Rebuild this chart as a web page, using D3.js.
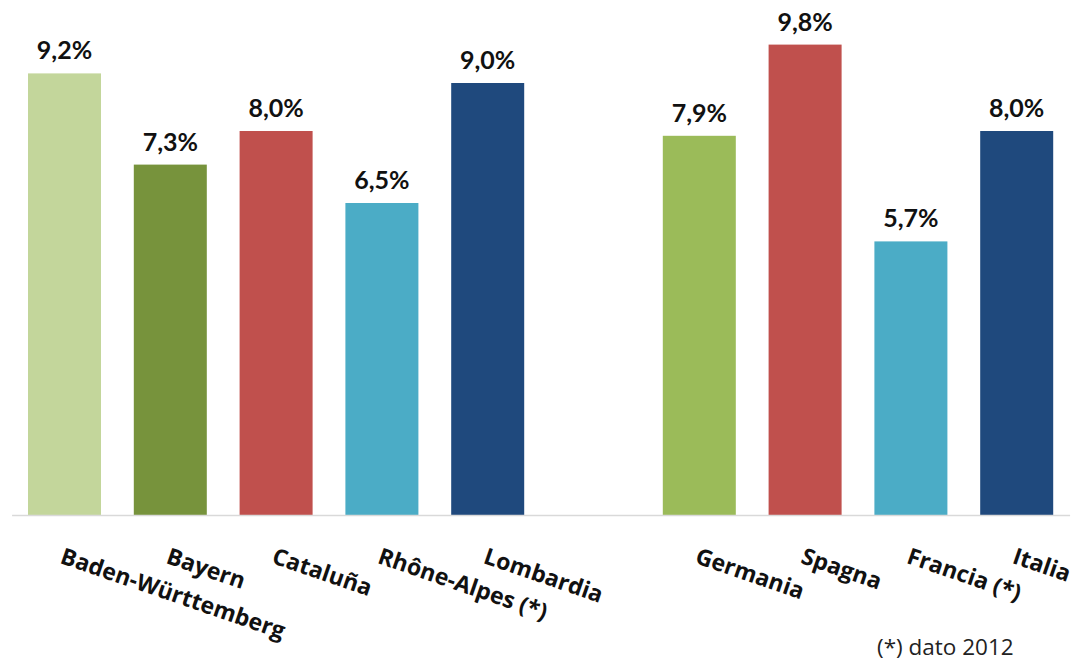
<!DOCTYPE html>
<html>
<head>
<meta charset="utf-8">
<script src="https://cdn.jsdelivr.net/npm/d3@7"></script>
<style>
  html, body { margin: 0; padding: 0; background: #ffffff; }
  svg { display: block; }
</style>
</head>
<body>
<svg id="chart" width="1081" height="665"></svg>
<script>
// ---- data ----
const categories = ["Baden-Württemberg", "Bayern", "Cataluña", "Rhône-Alpes (*)", "Lombardia", "", "Germania", "Spagna", "Francia (*)", "Italia"];
const values = [9.2, 7.3, 8.0, 6.5, 9.0, null, 7.9, 9.8, 5.7, 8.0];
const colors = ["#c3d69b", "#77933c", "#c0504d", "#4bacc6", "#1f497d", null, "#9bbb59", "#c0504d", "#4bacc6", "#1f497d"];
const footnote = "(*) dato 2012";

const data = categories.map((c, i) => ({ key: c, value: values[i], color: colors[i] }));

const svg = d3.select("#chart");
const baseline = 515;

const x = d3.scaleBand()
  .domain(categories)
  .range([11.6, 1069.6])
  .paddingInner(0.31)
  .paddingOuter(0.155);

const y = d3.scaleLinear()
  .domain([0, 10])
  .range([baseline, 35]);

const locale = d3.formatLocale({ decimal: ",", thousands: ".", grouping: [3], currency: ["", "€"] });
const fmt = locale.format(".1f");

const valueFont = "Lato, 'Open Sans', sans-serif";
const labelFont = "'Open Sans', Lato, sans-serif";

// bars
svg.append("g")
  .selectAll("rect")
  .data(data.filter(d => d.value != null))
  .join("rect")
  .attr("x", d => x(d.key))
  .attr("width", x.bandwidth())
  .attr("y", d => y(d.value))
  .attr("height", d => y(0) - y(d.value))
  .attr("fill", d => d.color);

// value labels
svg.append("g")
  .selectAll("text")
  .data(data.filter(d => d.value != null))
  .join("text")
  .attr("x", d => x(d.key) + x.bandwidth() / 2)
  .attr("y", d => y(d.value) - 14)
  .attr("text-anchor", "middle")
  .attr("font-family", valueFont)
  .attr("font-weight", "bold")
  .attr("font-size", 25)
  .attr("fill", "#111111")
  .text(d => fmt(d.value) + "%");

// x axis
const axis = svg.append("g")
  .attr("transform", `translate(0,${baseline})`)
  .call(d3.axisBottom(x).tickSize(0).tickSizeOuter(0).tickFormat(d => d));

axis.select(".domain")
  .attr("stroke", "#d9d9d9")
  .attr("stroke-width", 1.5);

axis.selectAll(".tick text")
  .attr("x", 0)
  .attr("y", 0)
  .attr("dy", "0.72em")
  .attr("text-anchor", "start")
  .attr("transform", "translate(0,32) rotate(19)")
  .attr("font-family", labelFont)
  .attr("font-weight", "bold")
  .attr("font-size", 23)
  .attr("fill", "#111111");

// footnote
svg.append("text")
  .attr("x", 877)
  .attr("y", 655)
  .attr("font-family", labelFont)
  .attr("font-size", 22.5)
  .attr("fill", "#222222")
  .text(footnote);
</script>
</body>
</html>
